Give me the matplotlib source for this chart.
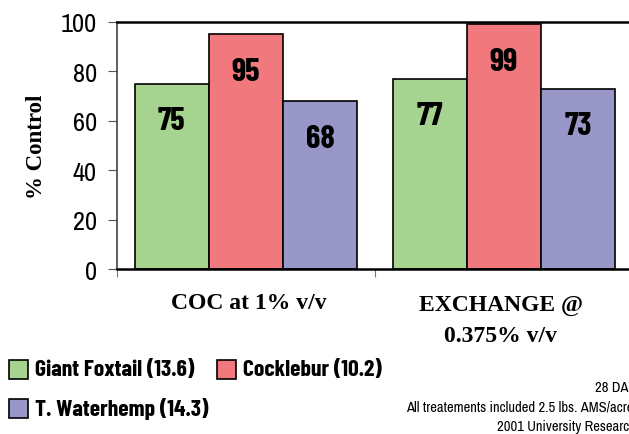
import matplotlib.pyplot as plt
import numpy as np
from matplotlib.patches import Rectangle

treatments = ["COC at 1% v/v", "EXCHANGE @\n0.375% v/v"]
species = ["Giant Foxtail (13.6)", "Cocklebur (10.2)", "T. Waterhemp (14.3)"]
values = [[75, 77], [95, 99], [68, 73]]
colors = ["#A6D38F", "#F1797D", "#9996C8"]
notes = ["28 DAT", "All treatements included 2.5 lbs. AMS/acre", "2001 University Research"]

cond = ["Barlow Condensed", "DejaVu Sans"]
narrow = ["Archivo Narrow", "DejaVu Sans"]
serif = ["Liberation Serif", "DejaVu Serif"]

fig = plt.figure(figsize=(6.29, 4.35), dpi=100)
ax = fig.add_axes([117 / 629, 165 / 435, 516 / 629, 247 / 435])

x = np.arange(len(treatments))
w = 0.288
for i, (vals, c) in enumerate(zip(values, colors)):
    bars = ax.bar(x + (i - 1) * w, vals, w, color=c, edgecolor="black", linewidth=1.2)
    for b, v in zip(bars, vals):
        ax.text(b.get_x() + b.get_width() / 2, v - 15, str(v), ha="center", va="center",
                fontsize=23.5, fontweight="bold", family=cond)

ax.set_xlim(-0.5, 1.5)
ax.set_ylim(0, 100)
ax.set_yticks(range(0, 101, 20))
ax.set_yticklabels([str(t) for t in range(0, 101, 20)], family=narrow, fontsize=19)
ax.set_xticks([-0.5, 0.5, 1.5])
ax.set_xticklabels([])
ax.tick_params(axis="y", direction="out", length=6.5, color="#555555", pad=8)
ax.tick_params(axis="x", direction="out", length=6, color="#777777")
for s in ["top", "bottom", "right"]:
    ax.spines[s].set_linewidth(1.8)
ax.spines["left"].set_color("#444444")
ax.spines["left"].set_linewidth(1.2)

ax.set_ylabel("% Control", family=serif, fontweight="bold", fontsize=16.5, labelpad=10)

fig.text(249 / 629, 1 - 304 / 435, treatments[0], ha="center", va="center",
         family=serif, fontweight="bold", fontsize=17)
for j, line in enumerate(treatments[1].split("\n")):
    fig.text(501 / 629, 1 - (305 + 32 * j) / 435, line, ha="center", va="center",
             family=serif, fontweight="bold", fontsize=17)

# legend drawn by hand, two rows like the original
leg_pos = [(9, 370), (217, 370), (9, 409)]
for (lx, ly), name, c in zip(leg_pos, species, colors):
    fig.patches.append(Rectangle((lx / 629, 1 - (ly + 10) / 435), 19 / 629, 19 / 435,
                                 transform=fig.transFigure, facecolor=c,
                                 edgecolor="black", linewidth=1.2))
    fig.text((lx + 26) / 629, 1 - ly / 435, name, ha="left", va="center",
             family=cond, fontweight="bold", fontsize=17)

note_pos = [(595, 388), (406, 408), (497, 427)]
for (nx, ny), t in zip(note_pos, notes):
    fig.text(nx / 629, 1 - ny / 435, t, ha="left", va="center", family=narrow, fontsize=10.5)

fig.savefig("out.png", dpi=100)
